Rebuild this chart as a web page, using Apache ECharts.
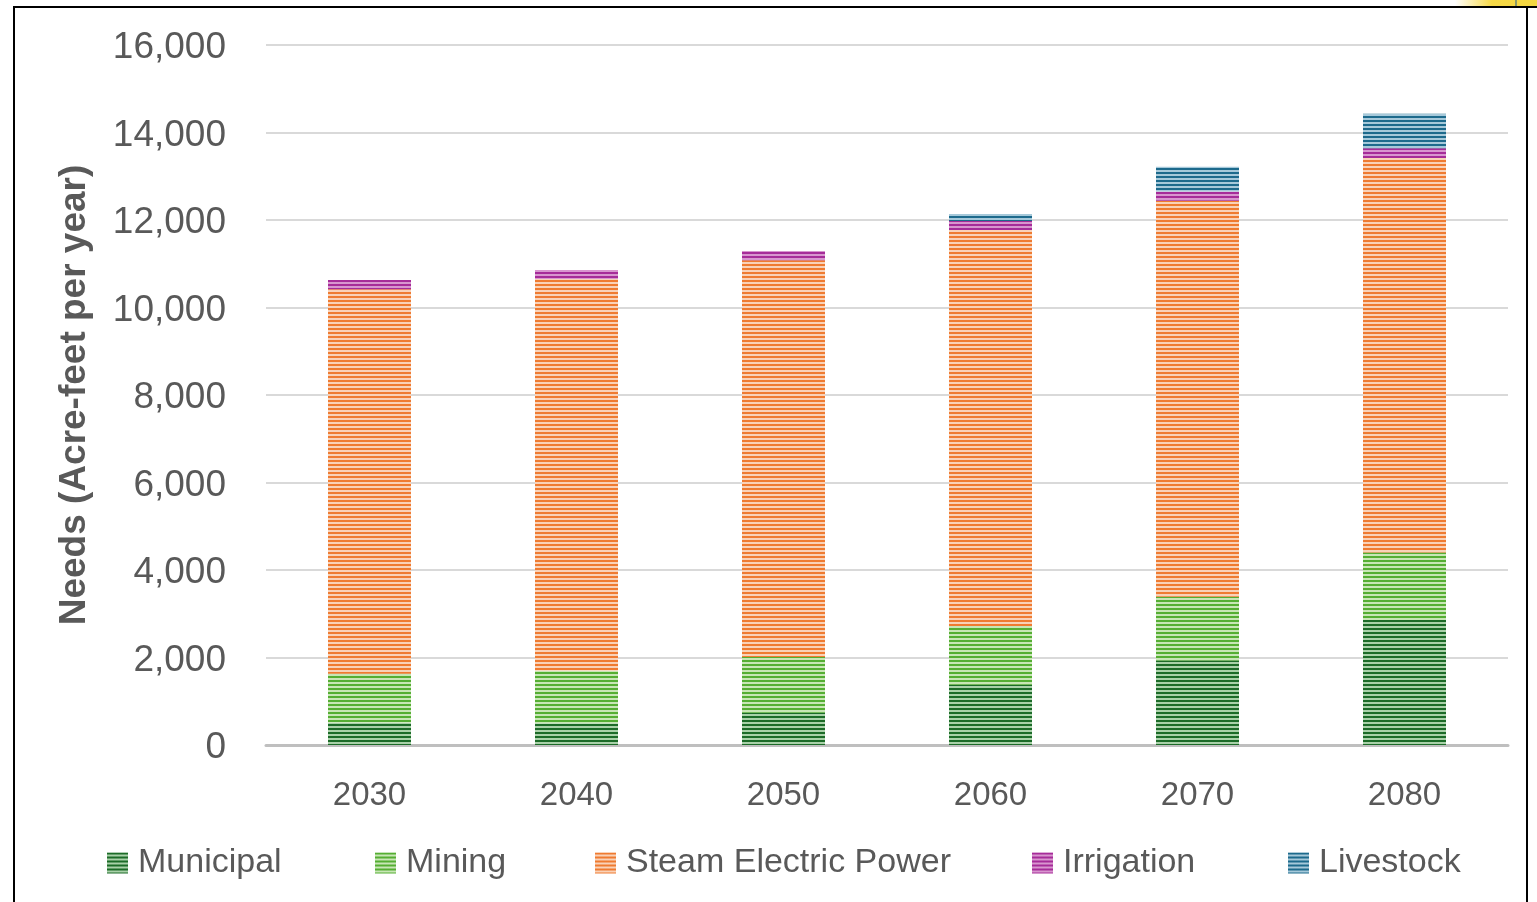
<!DOCTYPE html>
<html>
<head>
<meta charset="utf-8">
<script src="https://cdn.jsdelivr.net/npm/echarts@6/dist/echarts.min.js"></script>
<style>
  html, body { margin: 0; padding: 0; background: #ffffff; }
  #chart { width: 1537px; height: 902px; }
</style>
</head>
<body>
<div id="chart"></div>
<script>
// Projected water needs by use category (acre-feet per year)
const years = ['2030', '2040', '2050', '2060', '2070', '2080'];
const municipal = [510, 500, 740, 1380, 1930, 2860];
const mining = [1120, 1200, 1270, 1340, 1460, 1540];
const steamElectric = [8790, 8950, 9070, 9050, 9050, 9020];
const irrigation = [210, 210, 210, 210, 210, 220];
const livestock = [0, 0, 0, 160, 570, 790];
const yTicks = [0, 2000, 4000, 6000, 8000, 10000, 12000, 14000, 16000];

// Horizontal-stripe fill: dark band over light band, repeated
function stripes(dark, light) {
  const c = document.createElement('canvas');
  c.width = 4; c.height = 4;
  const ctx = c.getContext('2d');
  ctx.fillStyle = light; ctx.fillRect(0, 0, 4, 4);
  ctx.fillStyle = dark; ctx.fillRect(0, 0, 4, 2);
  return { image: c, repeat: 'repeat' };
}

const seriesDefs = [
  { name: 'Municipal', data: municipal, fill: stripes('#1c6b28', '#a9d1a9') },
  { name: 'Mining', data: mining, fill: stripes('#55ae33', '#c8e6b6') },
  { name: 'Steam Electric Power', data: steamElectric, fill: stripes('#ef7b31', '#f9d2b8') },
  { name: 'Irrigation', data: irrigation, fill: stripes('#a62c99', '#d896cf') },
  { name: 'Livestock', data: livestock, fill: stripes('#1d6a8c', '#a6c9da') }
];

const legendLefts = [107, 375, 595, 1032, 1288];
const textColor = '#595959';
const font = 'Liberation Sans, Arial, sans-serif';

const chart = echarts.init(document.getElementById('chart'), null, { renderer: 'canvas' });

chart.setOption({
  animation: false,
  backgroundColor: '#ffffff',
  grid: { left: 266, right: 29, top: 45, bottom: 157, containLabel: false },
  legend: seriesDefs.map((s, i) => ({
    data: [s.name],
    left: legendLefts[i],
    top: 846,
    padding: 0,
    icon: 'rect',
    itemWidth: 21,
    itemHeight: 21,
    itemGap: 0,
    selectedMode: false,
    textStyle: {
      color: textColor, fontFamily: font, fontSize: 34, lineHeight: 34,
      padding: [0, 0, 0, 5]
    }
  })),
  xAxis: {
    type: 'category',
    data: years,
    boundaryGap: true,
    axisLine: { show: true, lineStyle: { color: '#bfbfbf', width: 3 } },
    axisTick: { show: false },
    axisLabel: { color: textColor, fontFamily: font, fontSize: 33, margin: 34 }
  },
  yAxis: {
    type: 'value',
    min: yTicks[0],
    max: yTicks[yTicks.length - 1],
    interval: yTicks[1] - yTicks[0],
    axisLine: { show: false },
    axisTick: { show: false },
    splitLine: { lineStyle: { color: '#d9d9d9', width: 2 } },
    axisLabel: {
      color: textColor, fontFamily: font, fontSize: 37, margin: 40,
      verticalAlign: 'top', lineHeight: 6,
      formatter: v => v.toLocaleString('en-US')
    }
  },
  series: seriesDefs.map(s => ({
    name: s.name,
    type: 'bar',
    stack: 'needs',
    barWidth: 83,
    data: s.data,
    itemStyle: { color: s.fill },
    emphasis: { disabled: true }
  })),
  graphic: [
    {
      type: 'text',
      x: 75, y: 395,
      rotation: Math.PI / 2,
      style: {
        text: 'Needs (Acre-feet per year)',
        fill: textColor,
        font: 'bold 37px Liberation Sans, Arial, sans-serif',
        align: 'center',
        verticalAlign: 'middle'
      }
    },
    { type: 'line', shape: { x1: 14, y1: 902, x2: 14, y2: 6 }, style: { stroke: '#000000', lineWidth: 2 } },
    { type: 'line', shape: { x1: 13, y1: 7, x2: 1537, y2: 7 }, style: { stroke: '#000000', lineWidth: 2 } },
    { type: 'line', shape: { x1: 1527, y1: 6, x2: 1527, y2: 902 }, style: { stroke: '#000000', lineWidth: 2 } },
    {
      type: 'rect',
      shape: { x: 1455, y: 0, width: 82, height: 6 },
      style: {
        fill: {
          type: 'linear', x: 0, y: 0, x2: 1, y2: 0,
          colorStops: [
            { offset: 0, color: 'rgba(250,220,80,0)' },
            { offset: 0.45, color: '#f6d946' },
            { offset: 1, color: '#f3d640' }
          ]
        }
      }
    },
    { type: 'line', shape: { x1: 1516, y1: 0, x2: 1516, y2: 6 }, style: { stroke: '#1f5d8c', lineWidth: 1 } }
  ]
});
</script>
</body>
</html>
